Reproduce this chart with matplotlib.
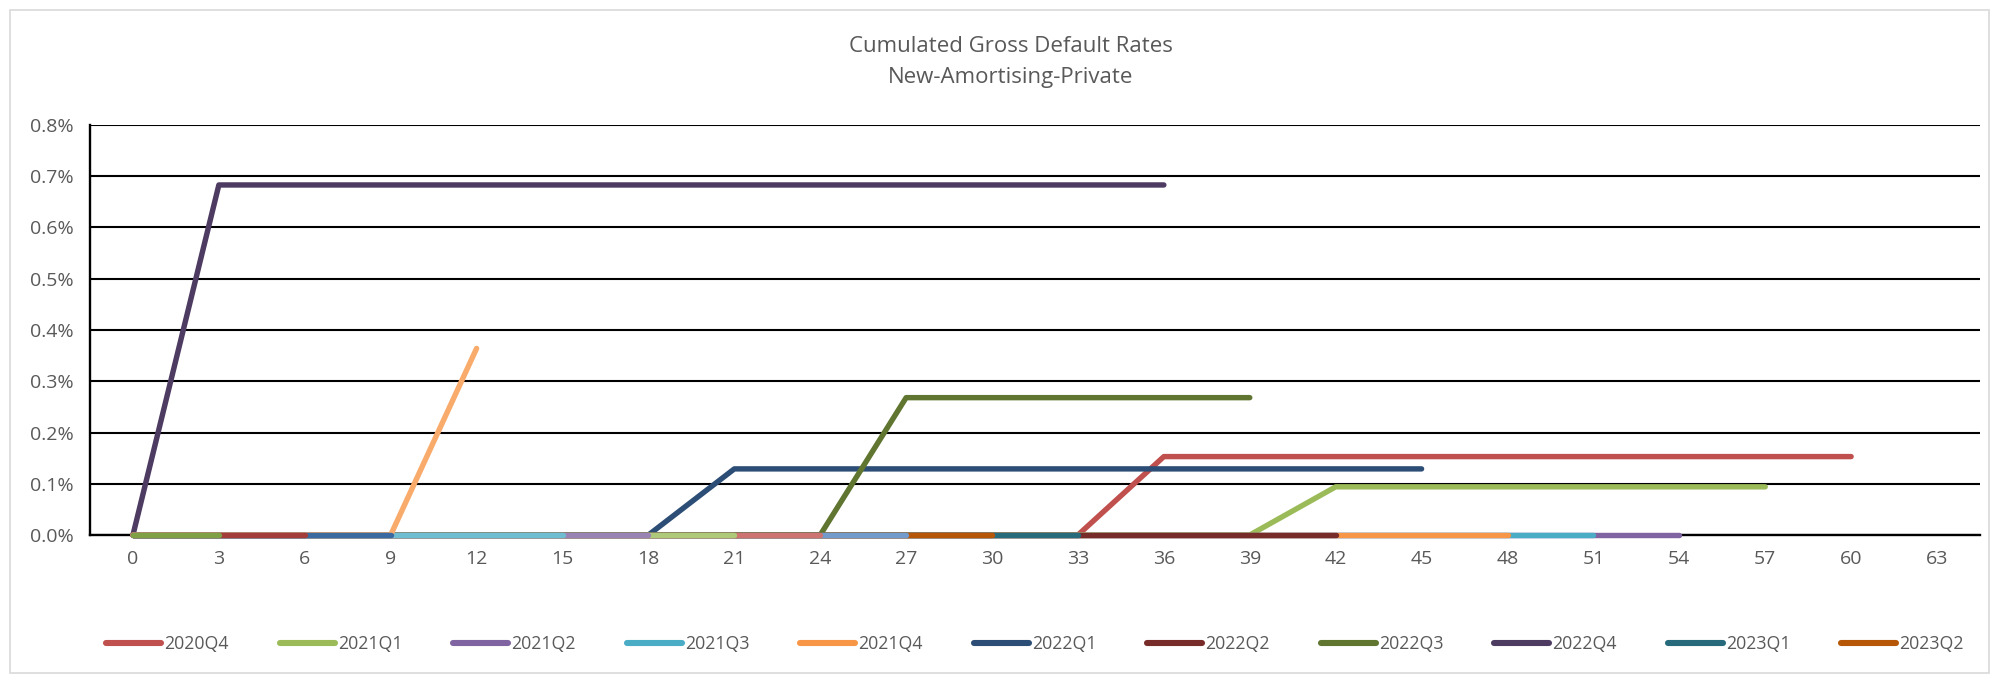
import matplotlib
matplotlib.use("Agg")
import matplotlib.pyplot as plt
from matplotlib import font_manager
from matplotlib.ticker import FuncFormatter
from matplotlib.patches import Rectangle
import numpy as np

# ---------------- data ----------------
months = [0, 3, 6, 9, 12, 15, 18, 21, 24, 27, 30, 33, 36, 39, 42, 45, 48, 51, 54, 57, 60, 63]

vintages = ["2020Q4", "2021Q1", "2021Q2", "2021Q3", "2021Q4", "2022Q1", "2022Q2",
            "2022Q3", "2022Q4", "2023Q1", "2023Q2", "2023Q3", "2023Q4", "2024Q1",
            "2024Q2", "2024Q3", "2024Q4", "2025Q1", "2025Q2", "2025Q3"]

# cumulated gross default rates in %
v2020Q4 = [0, 0, 0, 0, 0, 0, 0, 0, 0, 0, 0, 0, 0.153, 0.153, 0.153, 0.153, 0.153, 0.153, 0.153, 0.153, 0.153]
v2021Q1 = [0, 0, 0, 0, 0, 0, 0, 0, 0, 0, 0, 0, 0, 0, 0.094, 0.094, 0.094, 0.094, 0.094, 0.094]
v2021Q2 = [0, 0, 0, 0, 0, 0, 0, 0, 0, 0, 0, 0, 0, 0, 0, 0, 0, 0, 0]
v2021Q3 = [0, 0, 0, 0, 0, 0, 0, 0, 0, 0, 0, 0, 0, 0, 0, 0, 0, 0]
v2021Q4 = [0, 0, 0, 0, 0, 0, 0, 0, 0, 0, 0, 0, 0, 0, 0, 0, 0]
v2022Q1 = [0, 0, 0, 0, 0, 0, 0, 0.129, 0.129, 0.129, 0.129, 0.129, 0.129, 0.129, 0.129, 0.129]
v2022Q2 = [0, 0, 0, 0, 0, 0, 0, 0, 0, 0, 0, 0, 0, 0, 0]
v2022Q3 = [0, 0, 0, 0, 0, 0, 0, 0, 0, 0.268, 0.268, 0.268, 0.268, 0.268]
v2022Q4 = [0, 0.683, 0.683, 0.683, 0.683, 0.683, 0.683, 0.683, 0.683, 0.683, 0.683, 0.683, 0.683]
v2023Q1 = [0, 0, 0, 0, 0, 0, 0, 0, 0, 0, 0, 0]
v2023Q2 = [0, 0, 0, 0, 0, 0, 0, 0, 0, 0, 0]
v2023Q3 = [0, 0, 0, 0, 0, 0, 0, 0, 0, 0]
v2023Q4 = [0, 0, 0, 0, 0, 0, 0, 0, 0]
v2024Q1 = [0, 0, 0, 0, 0, 0, 0, 0]
v2024Q2 = [0, 0, 0, 0, 0, 0, 0]
v2024Q3 = [0, 0, 0, 0, 0, 0]
v2024Q4 = [0, 0, 0, 0, 0.364]
v2025Q1 = [0, 0, 0, 0]
v2025Q2 = [0, 0, 0]
v2025Q3 = [0, 0]

series = [v2020Q4, v2021Q1, v2021Q2, v2021Q3, v2021Q4, v2022Q1, v2022Q2, v2022Q3,
          v2022Q4, v2023Q1, v2023Q2, v2023Q3, v2023Q4, v2024Q1, v2024Q2, v2024Q3,
          v2024Q4, v2025Q1, v2025Q2, v2025Q3]

legend_count = 11  # only the first 11 vintages appear in the legend

colors = ["#C0504D", "#9BBB59", "#8064A2", "#4BACC6", "#F79646",
          "#2C4D75", "#772C2A", "#5F7530", "#4D3B62", "#276A7C", "#B65708",
          "#729ACA", "#CD7371", "#AFC97A", "#9983B5", "#6FBDD1", "#F9AB6B",
          "#3B6AA0", "#A23D3A", "#7FA045"]

# ---------------- fonts ----------------
avail = {f.name for f in font_manager.fontManager.ttflist}
fam = [f for f in ["Open Sans", "DejaVu Sans"] if f in avail]
plt.rcParams["font.family"] = fam
txt_color = "#595959"

W, H, DPI = 2001, 681, 100
fig = plt.figure(figsize=(W / DPI, H / DPI), dpi=DPI)

# outer chart border
fig.patches.append(Rectangle((10 / W, 8 / H), (W - 22) / W, (H - 18) / H,
                             transform=fig.transFigure, fill=False,
                             edgecolor="#D9D9D9", linewidth=1.2))

left, right, top, bottom = 90, 1980, 125, 535
ax = fig.add_axes([left / W, (H - bottom) / H, (right - left) / W, (bottom - top) / H])

x_idx = np.arange(len(months))
handles = []
for name, vals, col in zip(vintages, series, colors):
    (ln,) = ax.plot(x_idx[:len(vals)], vals, color=col, linewidth=3.9,
                    solid_capstyle="round", solid_joinstyle="round", label=name,
                    zorder=3, clip_on=False)
    handles.append(ln)

ax.set_xlim(-0.5, len(months) - 0.5)
ax.set_ylim(0, 0.8)
ax.set_xticks(x_idx)
ax.set_xticklabels([str(m) for m in months])
ax.set_yticks(np.arange(0, 0.81, 0.1))
ax.yaxis.set_major_formatter(FuncFormatter(lambda v, p: f"{v:.1f}%"))

ax.grid(axis="y", color="black", linewidth=1.5, zorder=1)
ax.set_axisbelow(True)
for s in ["top", "right"]:
    ax.spines[s].set_visible(False)
for s in ["left", "bottom"]:
    ax.spines[s].set_color("black")
    ax.spines[s].set_linewidth(1.7)
    ax.spines[s].set_zorder(2)

ax.tick_params(axis="both", length=0, labelsize=14, colors=txt_color)
ax.tick_params(axis="x", pad=11)
ax.tick_params(axis="y", pad=12)

fig.text(1011 / W, 1 - 46 / H, "Cumulated Gross Default Rates", ha="center", va="center",
         fontsize=16, color=txt_color)
fig.text(1011 / W, 1 - 77 / H, "New-Amortising-Private", ha="center", va="center",
         fontsize=16, color=txt_color)

leg = fig.legend(handles[:legend_count], vintages[:legend_count], ncol=legend_count,
                 loc="center", bbox_to_anchor=(1035 / W, 1 - 644 / H), frameon=False,
                 fontsize=12.8, handlelength=3.1, handletextpad=0.18, columnspacing=2.85,
                 labelcolor=txt_color)
for lh in leg.get_lines():
    lh.set_linewidth(4.4)

fig.savefig("out.png", dpi=DPI)
